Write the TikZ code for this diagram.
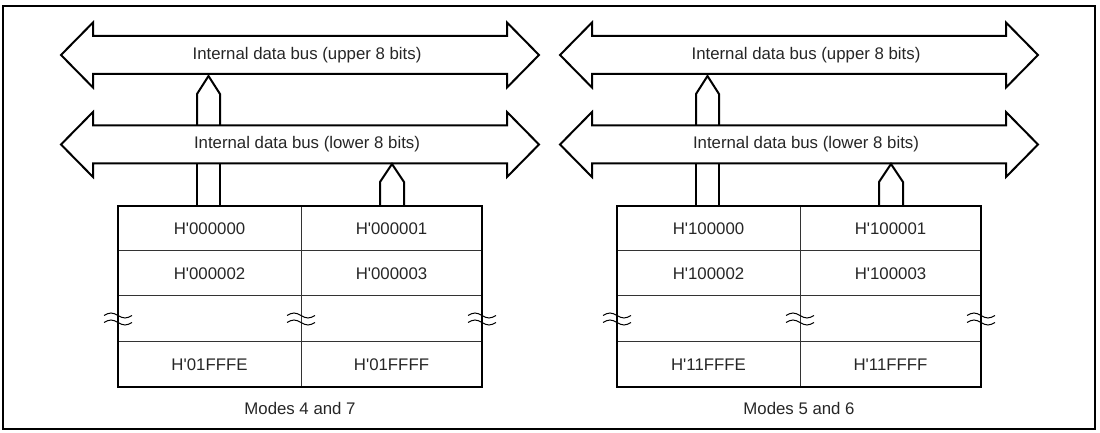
\documentclass[tikz,border=0pt]{standalone}
\usepackage{fontspec}
\setmainfont{Liberation Sans}
\usetikzlibrary{calc}

\begin{document}
\begin{tikzpicture}[x=0.5pt,y=-0.5pt,
		bus_line/.style={line width=1pt, black, line join=miter},
		mem_frame/.style={line width=1pt, black},
		mem_grid/.style={line width=0.5pt, black!80},
		cell_text/.style={font=\fontsize{8.4}{10}\selectfont, text=black!85, inner sep=0pt},
		gap_mark/.style={line width=0.5pt, black}
		]
		
		\useasboundingbox (0,0) rectangle (1100,433);
		\draw[mem_frame] (3,6) rectangle (1095,429);
		
		\foreach \i/\dx/\ca/\cb/\cc/\cd/\ce/\cf/\md in {l/0/000000/000001/000002/000003/01FFFE/01FFFF/4 and 7, r/499/100000/100001/100002/100003/11FFFE/11FFFF/5 and 6}{
		\begin{scope}[shift={(\dx,0)}]
		
		% buses
		\foreach \yc in {55, 144.5} \draw[bus_line] (61,\yc) -- (93,\yc-32.5) -- (93,\yc-19) -- (507,\yc-19) -- (507,\yc-32.5) -- (539,\yc) -- (507,\yc+32.5) -- (507,\yc+19) -- (93,\yc+19) -- (93,\yc+32.5) -- cycle;
		\node[cell_text] (busU\i) at (307,55) {Internal data bus (upper 8 bits)};
		\node[cell_text] (busL\i) at (307,144.5) {Internal data bus (lower 8 bits)};
		
		% memory
		\coordinate (tabNW\i) at (118,206); \coordinate (tabSE\i) at (482,387);
		\draw[mem_grid] (118,251) -- (482,251); \draw[mem_grid] (118,296) -- (482,296); \draw[mem_grid] (118,342) -- (482,342);
		\draw[mem_grid] (301,206) -- (301,387);
		\draw[mem_frame] (tabNW\i) rectangle (tabSE\i);
		
		\node[cell_text] (c11\i) at (209.5,228.5) {H\textquotesingle\ca}; \node[cell_text] (c12\i) at (391.5,228.5) {H\textquotesingle\cb};
		\node[cell_text] (c21\i) at (209.5,273.5) {H\textquotesingle\cc}; \node[cell_text] (c22\i) at (391.5,273.5) {H\textquotesingle\cd};
		\node[cell_text] (c41\i) at (209.5,364.5) {H\textquotesingle\ce}; \node[cell_text] (c42\i) at (391.5,364.5) {H\textquotesingle\cf};
		\foreach \sx in {118,301,482} \foreach \sy in {315.5,322.5} \draw[gap_mark] (\sx-14,\sy) sin (\sx-7,\sy-2.5) cos (\sx,\sy) sin (\sx+7,\sy+2.5) cos (\sx+14,\sy);
		\node[cell_text] (mode\i) at (300,408) {Modes \md};
		
		% links bus <-> memory
		\coordinate (upTip\i) at (208.5,76); \coordinate (loTip\i) at (392,164);
		\draw[bus_line] ($(upTip\i)+(-11.5,50)$) -- ($(upTip\i)+(-11.5,18)$) -- (upTip\i) -- ($(upTip\i)+(11.5,18)$) -- ($(upTip\i)+(11.5,50)$);
		\draw[bus_line] (197,163.5) -- (197,206); \draw[bus_line] (220,163.5) -- (220,206);
		\draw[bus_line] ($(loTip\i)+(-12,42)$) -- ($(loTip\i)+(-12,18)$) -- (loTip\i) -- ($(loTip\i)+(12,18)$) -- ($(loTip\i)+(12,42)$);
		\end{scope}
		}
	\end{tikzpicture}
\end{document}
